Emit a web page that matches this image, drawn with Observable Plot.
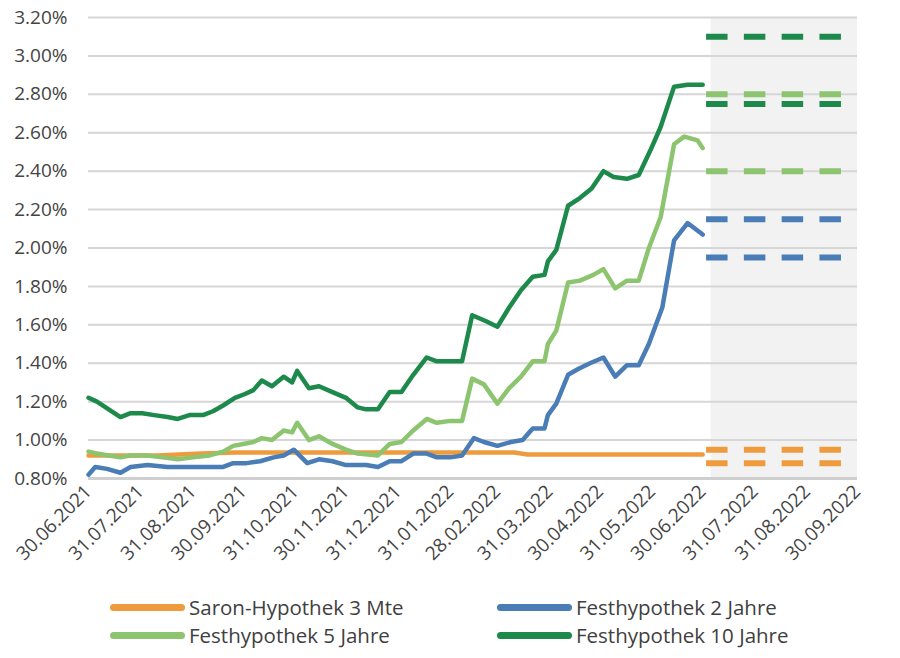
<!DOCTYPE html>
<html><head><meta charset="utf-8">
<script src="https://cdn.jsdelivr.net/npm/d3@7"></script>
<script src="https://cdn.jsdelivr.net/npm/@observablehq/plot@0.6"></script>
<style>
html,body{margin:0;padding:0;background:#fff;width:900px;height:658px;overflow:hidden;}
#chart{position:absolute;left:0;top:0;}
.leg{position:absolute;display:flex;align-items:center;font-family:"Open Sans",sans-serif;font-size:20.5px;color:#404040;white-space:nowrap;}
.sw{width:75px;height:7px;border-radius:4px;margin-right:4px;}
</style></head><body>
<div id="chart"></div>
<div id="legend"></div>
<script>
const seriesNames = ["Saron-Hypothek 3 Mte","Festhypothek 2 Jahre","Festhypothek 5 Jahre","Festhypothek 10 Jahre"];
const seriesColors = ["#ee9b3e","#4a7cb6","#8dc46f","#1d8a4c"];

const saron = [["2021-06-30",0.92],["2021-08-10",0.92],["2021-09-05",0.93],["2021-09-25",0.935],["2022-03-10",0.935],["2022-03-18",0.925],["2022-06-30",0.925]];

const festhyp2 = [["2021-06-30",0.82],["2021-07-04",0.86],["2021-07-11",0.85],["2021-07-19",0.83],["2021-07-25",0.86],["2021-08-04",0.87],["2021-08-16",0.86],["2021-08-31",0.86],["2021-09-08",0.86],["2021-09-18",0.86],["2021-09-24",0.88],["2021-10-02",0.88],["2021-10-10",0.89],["2021-10-18",0.91],["2021-10-24",0.92],["2021-10-30",0.95],["2021-11-07",0.88],["2021-11-14",0.90],["2021-11-22",0.89],["2021-11-30",0.87],["2021-12-12",0.87],["2021-12-19",0.86],["2021-12-26",0.89],["2022-01-02",0.89],["2022-01-09",0.93],["2022-01-17",0.93],["2022-01-23",0.91],["2022-01-31",0.91],["2022-02-07",0.92],["2022-02-14",1.01],["2022-02-20",0.99],["2022-02-28",0.97],["2022-03-08",0.99],["2022-03-15",1.00],["2022-03-21",1.06],["2022-03-28",1.06],["2022-03-30",1.13],["2022-04-04",1.19],["2022-04-11",1.34],["2022-04-17",1.37],["2022-04-24",1.40],["2022-05-02",1.43],["2022-05-09",1.33],["2022-05-16",1.39],["2022-05-23",1.39],["2022-05-29",1.50],["2022-06-06",1.69],["2022-06-13",2.04],["2022-06-21",2.13],["2022-06-30",2.07]];

const festhyp5 = [["2021-06-30",0.94],["2021-07-05",0.93],["2021-07-12",0.92],["2021-07-19",0.91],["2021-07-25",0.92],["2021-08-04",0.92],["2021-08-13",0.91],["2021-08-22",0.90],["2021-08-31",0.91],["2021-09-10",0.92],["2021-09-18",0.94],["2021-09-24",0.97],["2021-09-30",0.98],["2021-10-06",0.99],["2021-10-11",1.01],["2021-10-17",1.00],["2021-10-24",1.05],["2021-10-29",1.04],["2021-11-01",1.09],["2021-11-08",1.00],["2021-11-14",1.02],["2021-11-22",0.98],["2021-11-30",0.95],["2021-12-07",0.93],["2021-12-19",0.92],["2021-12-26",0.98],["2022-01-02",0.99],["2022-01-09",1.05],["2022-01-17",1.11],["2022-01-23",1.09],["2022-01-31",1.10],["2022-02-07",1.10],["2022-02-13",1.32],["2022-02-20",1.29],["2022-02-28",1.19],["2022-03-07",1.27],["2022-03-14",1.33],["2022-03-21",1.41],["2022-03-28",1.41],["2022-03-30",1.50],["2022-04-04",1.57],["2022-04-11",1.82],["2022-04-18",1.83],["2022-04-26",1.86],["2022-05-02",1.89],["2022-05-09",1.79],["2022-05-16",1.83],["2022-05-23",1.83],["2022-05-29",2.00],["2022-06-05",2.16],["2022-06-09",2.35],["2022-06-13",2.54],["2022-06-19",2.58],["2022-06-27",2.56],["2022-06-30",2.52]];

const festhyp10 = [["2021-06-30",1.22],["2021-07-05",1.20],["2021-07-12",1.16],["2021-07-19",1.12],["2021-07-25",1.14],["2021-08-01",1.14],["2021-08-08",1.13],["2021-08-16",1.12],["2021-08-22",1.11],["2021-08-29",1.13],["2021-09-06",1.13],["2021-09-12",1.15],["2021-09-18",1.18],["2021-09-25",1.22],["2021-10-01",1.24],["2021-10-06",1.26],["2021-10-11",1.31],["2021-10-17",1.28],["2021-10-24",1.33],["2021-10-29",1.30],["2021-11-01",1.36],["2021-11-08",1.27],["2021-11-14",1.28],["2021-11-22",1.25],["2021-11-30",1.22],["2021-12-07",1.17],["2021-12-12",1.16],["2021-12-19",1.16],["2021-12-26",1.25],["2022-01-02",1.25],["2022-01-09",1.34],["2022-01-17",1.43],["2022-01-23",1.41],["2022-01-31",1.41],["2022-02-07",1.41],["2022-02-13",1.65],["2022-02-21",1.62],["2022-02-28",1.59],["2022-03-07",1.69],["2022-03-14",1.78],["2022-03-21",1.85],["2022-03-28",1.86],["2022-03-30",1.93],["2022-04-04",1.99],["2022-04-11",2.22],["2022-04-18",2.26],["2022-04-25",2.31],["2022-05-02",2.40],["2022-05-08",2.37],["2022-05-16",2.36],["2022-05-23",2.38],["2022-05-30",2.51],["2022-06-05",2.63],["2022-06-13",2.84],["2022-06-21",2.85],["2022-06-30",2.85]];

const forecastSeries = ["Saron-Hypothek 3 Mte","Saron-Hypothek 3 Mte","Festhypothek 2 Jahre","Festhypothek 2 Jahre","Festhypothek 5 Jahre","Festhypothek 5 Jahre","Festhypothek 10 Jahre","Festhypothek 10 Jahre"];
const forecastValues = [0.95,0.88,2.15,1.95,2.80,2.40,3.10,2.75];
const forecastStart = "2022-07-02";
const forecastEnd = "2022-09-21";
const shadeStart = "2022-07-05";

const xTickDates = ["2021-06-30","2021-07-31","2021-08-31","2021-09-30","2021-10-31","2021-11-30","2021-12-31","2022-01-31","2022-02-28","2022-03-31","2022-04-30","2022-05-31","2022-06-30","2022-07-31","2022-08-31","2022-09-30"];
const yTicks = [0.8,1.0,1.2,1.4,1.6,1.8,2.0,2.2,2.4,2.6,2.8,3.0,3.2];

const parse = d3.utcParse("%Y-%m-%d");
const seriesData = [saron, festhyp2, festhyp5, festhyp10];
const lines = seriesData.flatMap((arr, i) => arr.map(([d, v]) => ({series: seriesNames[i], date: parse(d), value: v})));
const forecasts = forecastValues.map((v, i) => ({series: forecastSeries[i], value: v}));
const xTicks = xTickDates.map(parse);
const xDomain = [xTicks[0], xTicks[xTicks.length - 1]];

const chart = Plot.plot({
  width: 900,
  height: 585,
  marginLeft: 88,
  marginRight: 43,
  marginTop: 17,
  marginBottom: 107,
  style: {fontFamily: "'Open Sans', sans-serif", color: "#444", background: "#fff"},
  x: {type: "utc", domain: xDomain, label: null},
  y: {domain: [0.8, 3.2], label: null},
  color: {domain: seriesNames, range: seriesColors},
  marks: [
    Plot.rect([{}], {x1: () => parse(shadeStart), x2: () => xDomain[1], y1: () => 0.8, y2: () => 3.2, fill: "#f2f2f2"}),
    Plot.gridY(yTicks, {stroke: "#d6d6d6", strokeOpacity: 1, strokeWidth: 2}),
    Plot.axisY(yTicks, {tickSize: 0, tickPadding: 21, fontSize: 19, label: null, tickFormat: d => d.toFixed(2) + "%"}),
    Plot.axisX(xTicks, {tickSize: 0, tickPadding: 10, tickRotate: -45, fontSize: 19, label: null, tickFormat: d3.utcFormat("%d.%m.%Y")}),
    Plot.ruleY([0.8], {stroke: "#cfcfcf", strokeWidth: 3}),
    Plot.line(lines, {x: "date", y: "value", z: "series", stroke: "series", strokeWidth: 4.5, strokeLinejoin: "round", strokeLinecap: "round"}),
    Plot.link(forecasts, {x1: () => parse(forecastStart), x2: () => parse(forecastEnd), y1: "value", y2: "value", stroke: "series", strokeWidth: 6, strokeDasharray: "21.5,16.3"})
  ]
});
document.getElementById("chart").appendChild(chart);

const legendPos = [[110, 607], [497, 607], [110, 635], [497, 635]];
const legOrder = [0, 1, 2, 3];
const legend = document.getElementById("legend");
legOrder.forEach((i, k) => {
  const el = document.createElement("div");
  el.className = "leg";
  el.style.left = legendPos[k][0] + "px";
  el.style.top = (legendPos[k][1] - 14) + "px";
  el.style.height = "28px";
  el.innerHTML = `<div class="sw" style="background:${seriesColors[i]}"></div><span>${seriesNames[i]}</span>`;
  legend.appendChild(el);
});
</script>
</body></html>
